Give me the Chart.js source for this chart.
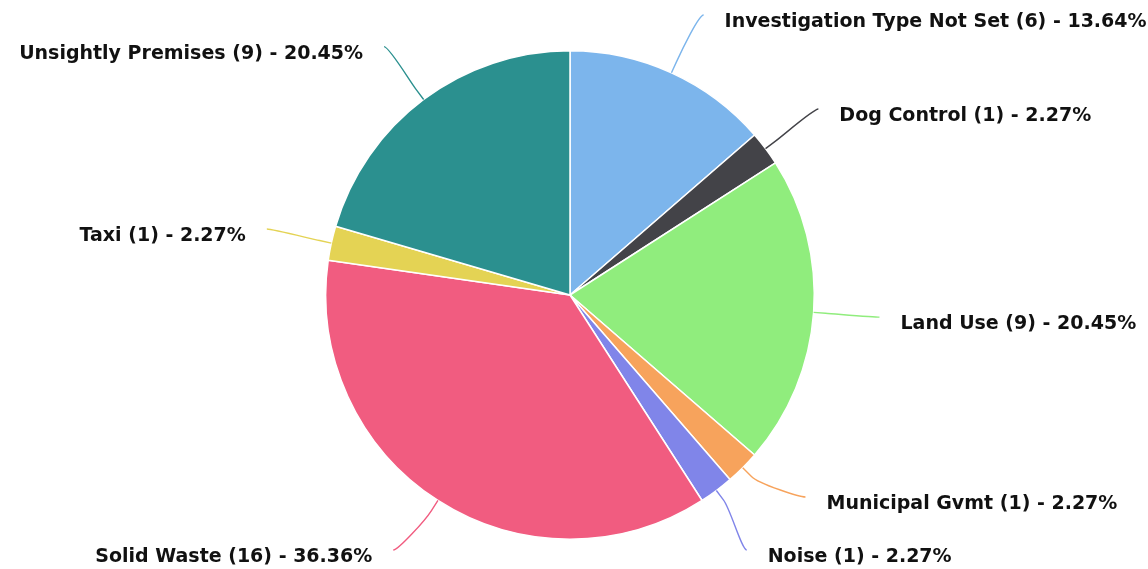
<!DOCTYPE html>
<html>
<head>
<meta charset="utf-8">
<script src="https://cdn.jsdelivr.net/npm/chart.js@4.4.1/dist/chart.umd.min.js"></script>
<style>
  html, body { margin: 0; padding: 0; background: #fff; }
</style>
</head>
<body>
<canvas id="chartCanvas" width="1148" height="569"></canvas>
<script>
const categories = [
  "Investigation Type Not Set",
  "Dog Control",
  "Land Use",
  "Municipal Gvmt",
  "Noise",
  "Solid Waste",
  "Taxi",
  "Unsightly Premises"
];
const counts = [6, 1, 9, 1, 1, 16, 1, 9];
const sliceColors = ["#7cb5ec", "#434348", "#90ed7d", "#f7a35c", "#8085e9", "#f15c80", "#e4d354", "#2b908f"];

const labelFont = "bold 19px 'DejaVu Sans', sans-serif";

// spread labels on one side so they don't overlap (roughly how highcharts does it)
function distribute(list, minY, maxY, gap) {
  const place = g => {
    const n = g.items.length;
    const mean = g.items.reduce((s, o) => s + o.y, 0) / n;
    let start = mean - gap * (n - 1) / 2;
    start = Math.max(minY, Math.min(start, maxY - gap * (n - 1)));
    g.start = start;
  };
  let groups = list.map(o => ({ items: [o] }));
  groups.forEach(place);
  let changed = true;
  while (changed) {
    changed = false;
    for (let k = 0; k < groups.length - 1; k++) {
      const a = groups[k], b = groups[k + 1];
      if (a.start + gap * a.items.length > b.start) {
        a.items = a.items.concat(b.items);
        groups.splice(k + 1, 1);
        place(a);
        changed = true;
        break;
      }
    }
  }
  groups.forEach(g => g.items.forEach((o, j) => { o.ly = g.start + j * gap; }));
}

const pieLabels = {
  id: "pieLabels",
  afterDatasetsDraw(chart) {
    const ctx = chart.ctx;
    const arcs = chart.getDatasetMeta(0).data;
    const total = counts.reduce((a, b) => a + b, 0);
    const cx = arcs[0].x, cy = arcs[0].y, r = arcs[0].outerRadius;
    const R = r + 66;
    const items = arcs.map((arc, i) => {
      const mid = (arc.startAngle + arc.endAngle) / 2;
      const cos = Math.cos(mid), sin = Math.sin(mid);
      return { i, cos, sin, side: cos >= 0 ? 1 : -1, y: cy + R * sin };
    });
    [1, -1].forEach(side => {
      const list = items.filter(o => o.side === side).sort((a, b) => a.y - b.y);
      distribute(list, 15, chart.height - 19, 53);
    });

    ctx.save();
    ctx.font = labelFont;
    ctx.textBaseline = "middle";
    items.forEach(o => {
      const dy = o.ly - cy;
      const endX = cx + o.side * Math.sqrt(Math.max(R * R - dy * dy, 0));
      const tx = cx + r * o.cos, ty = cy + r * o.sin;
      const bx = cx + (r + 12) * o.cos, by = cy + (r + 12) * o.sin;

      ctx.strokeStyle = sliceColors[o.i];
      ctx.lineWidth = 1.4;
      ctx.beginPath();
      ctx.moveTo(endX, o.ly);
      ctx.bezierCurveTo(endX - o.side * 5, o.ly, 2 * bx - tx, 2 * by - ty, bx, by);
      ctx.lineTo(tx, ty);
      ctx.stroke();

      const pct = (counts[o.i] / total * 100).toFixed(2);
      const text = `${categories[o.i]} (${counts[o.i]}) - ${pct}%`;
      ctx.fillStyle = "#111";
      ctx.textAlign = o.side > 0 ? "left" : "right";
      ctx.fillText(text, endX + o.side * 21, o.ly + 7);
    });
    ctx.restore();
  }
};

const ctx = document.getElementById("chartCanvas").getContext("2d");
new Chart(ctx, {
  type: "pie",
  data: {
    labels: categories,
    datasets: [{
      data: counts,
      backgroundColor: sliceColors,
      borderColor: "#ffffff",
      borderWidth: 1.5
    }]
  },
  options: {
    responsive: false,
    animation: false,
    layout: { padding: { left: 325, right: 333, top: 50, bottom: 29 } },
    plugins: {
      legend: { display: false },
      tooltip: { enabled: false }
    }
  },
  plugins: [pieLabels]
});
</script>
</body>
</html>
